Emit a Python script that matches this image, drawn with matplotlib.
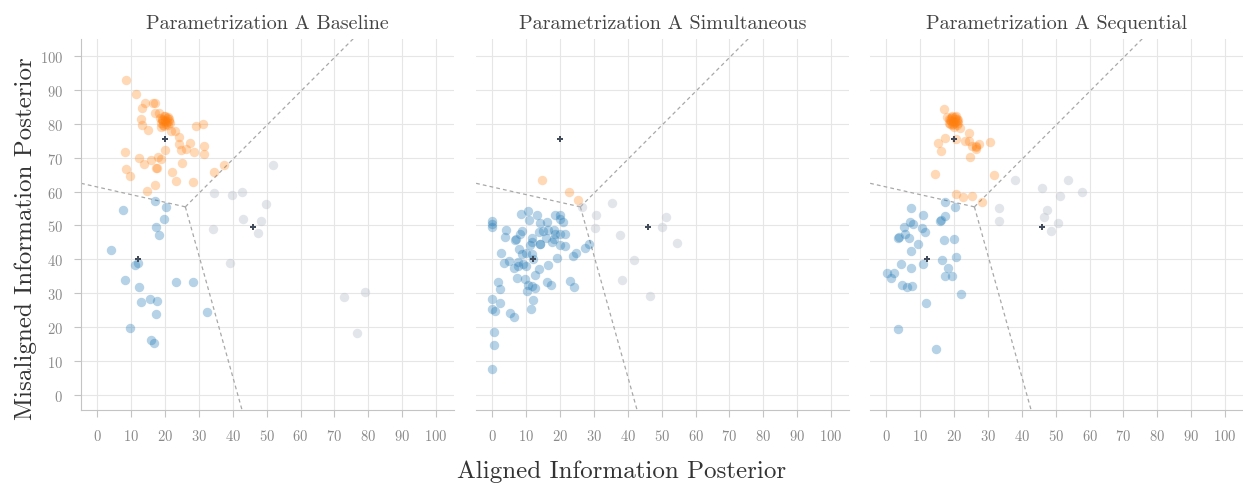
import numpy as np
import matplotlib
import matplotlib.pyplot as plt

matplotlib.use('agg')

# panel titles
titles = ['Parametrization A Baseline', 'Parametrization A Simultaneous',
          'Parametrization A Sequential']

# cluster centroids (same in all panels)
cent_x = [20, 12, 46]
cent_y = [75.5, 40, 49.5]

# --- Baseline ---
base_orange_x = [8.5, 11.5, 14.1, 13.2, 16.3, 17.1, 16.9, 18.2, 13.0, 13.2, 15.1,
                 22.8, 24.0, 21.9, 29.2, 31.3, 24.1, 27.5, 24.6, 26.3, 28.5, 31.4,
                 31.4, 20.0, 8.1, 12.4, 13.7, 16.0, 17.8, 18.9, 25.1, 17.4, 17.5,
                 8.6, 9.8, 22.2, 23.3, 28.3, 34.6, 37.5, 17.1, 14.7,
                 19.9, 19.2, 20.6, 21.3, 18.8, 19.5, 20.3, 21.0, 19.0, 20.8,
                 19.6, 20.1, 21.5, 18.5, 19.8, 20.5, 19.3, 21.2, 18.9, 20.0]
base_orange_y = [92.8, 88.8, 86.1, 84.5, 86.1, 86.1, 83.3, 83.3, 81.3, 79.7, 78.1,
                 78.0, 76.0, 78.0, 79.4, 79.8, 74.0, 74.2, 72.4, 72.6, 71.8, 73.5,
                 71.0, 72.2, 71.8, 69.9, 68.2, 69.3, 70.2, 69.5, 68.4, 66.9, 67.1,
                 66.6, 64.5, 65.7, 63.0, 62.7, 65.8, 67.9, 61.8, 60.1,
                 80.7, 81.5, 81.8, 80.9, 80.2, 79.6, 80.0, 79.5, 81.0, 82.0,
                 82.3, 81.2, 80.2, 81.6, 79.2, 80.5, 80.8, 81.4, 79.0, 82.4]
base_blue_x = [17.1, 20.3, 7.6, 19.7, 17.4, 18.3, 4.0, 12.1, 11.2, 8.3, 12.4, 23.3,
               28.2, 15.7, 17.5, 12.8, 17.3, 32.5, 9.8, 15.8, 16.6]
base_blue_y = [57.1, 55.4, 54.6, 51.9, 49.6, 47.2, 42.7, 38.9, 38.3, 34.0, 31.8, 33.2,
               33.2, 28.2, 27.7, 27.4, 24.0, 24.5, 19.8, 16.2, 15.3]
base_gray_x = [51.8, 34.6, 39.8, 42.6, 49.7, 42.9, 48.3, 47.4, 34.1, 39.1, 72.7, 79.0, 76.7]
base_gray_y = [67.9, 59.7, 59.1, 59.9, 56.3, 51.9, 51.4, 47.9, 49.1, 38.8, 28.9, 30.4, 18.3]

# --- Simultaneous ---
sim_orange_x = [14.7, 22.7, 25.2]
sim_orange_y = [63.5, 59.9, 57.6]
sim_blue_x = [0.0, 0.0, 0.0, 8.5, 10.6, 10.8, 13.3, 18.6, 20.0, 20.1, 20.9, 14.0, 16.1,
              3.9, 3.6, 8.7, 8.2, 6.9, 6.6, 13.8, 15.0, 16.3, 18.1, 18.6, 20.1, 21.6,
              11.6, 11.6, 14.1, 14.0, 15.9, 17.6, 18.2, 19.9, 21.4, 11.1, 7.9, 9.8,
              8.8, 11.6, 2.6, 4.8, 3.5, 7.7, 7.5, 9.0, 9.9, 6.5, 11.9, 19.2, 16.5,
              13.7, 12.6, 7.2, 9.6, 10.6, 11.8, 12.6, 10.1, 16.0, 17.4, 22.8, 24.0,
              23.9, 24.6, 27.5, 28.4, 1.7, 2.2, 0.0, 0.0, 0.7, 2.3, 5.2, 6.4, 12.1,
              11.4, 0.4, 0.5, 0.0]
sim_blue_y = [51.3, 50.3, 49.6, 53.3, 54.4, 51.6, 53.2, 53.0, 53.0, 51.8, 51.0, 50.6, 51.0,
              48.6, 46.6, 48.3, 47.5, 45.9, 45.6, 48.1, 48.4, 48.7, 48.7, 47.4, 47.4, 47.5,
              46.2, 45.2, 44.4, 44.6, 46.2, 45.2, 45.9, 44.2, 44.1, 44.2, 43.1, 42.0,
              41.5, 41.7, 41.8, 39.6, 38.8, 39.2, 38.2, 38.7, 38.2, 37.5, 40.0, 40.4, 38.3,
              37.3, 35.3, 34.5, 34.2, 32.6, 32.1, 31.5, 30.6, 33.3, 32.6, 33.6, 32.0,
              41.0, 41.8, 43.4, 44.6, 33.2, 31.4, 28.4, 25.5, 24.7, 27.1, 24.3, 22.9, 28.1,
              25.5, 18.5, 14.8, 7.6]
sim_gray_x = [26.4, 35.2, 30.7, 51.3, 30.4, 50.0, 37.8, 54.6, 41.9, 38.2, 46.7]
sim_gray_y = [55.4, 56.6, 53.0, 52.6, 49.2, 49.7, 47.3, 44.8, 39.9, 34.0, 29.2]

# --- Sequential ---
seq_orange_x = [17.0, 18.0, 21.7, 24.5, 17.4, 20.6, 23.3, 24.3, 15.2, 25.4, 26.4, 26.5,
                27.5, 26.6, 30.7, 16.0, 24.8, 14.4, 31.7, 20.6, 22.6, 25.4, 28.3,
                19.7, 19.0, 20.4, 21.1, 18.6, 19.3, 20.1, 20.8, 18.9, 20.6, 19.5,
                21.3, 18.4, 19.9, 20.3, 19.1, 21.0, 19.7, 20.2, 18.7, 19.4, 20.9]
seq_orange_y = [84.3, 82.0, 78.7, 77.4, 75.7, 75.5, 74.8, 74.8, 74.2, 73.3, 73.5, 73.0,
                74.1, 72.5, 74.7, 72.0, 70.1, 65.1, 65.0, 59.2, 58.3, 58.6, 57.0,
                80.7, 81.6, 81.9, 81.0, 80.3, 79.5, 80.1, 79.6, 81.2, 82.2, 82.3,
                80.3, 81.5, 79.1, 80.6, 80.8, 81.5, 79.9, 81.3, 79.8, 82.0, 80.9]
seq_blue_x = [7.3, 17.4, 20.3, 10.8, 17.4, 15.7, 16.0, 6.9, 8.0, 5.2, 10.5, 11.3, 5.4,
              3.3, 3.8, 6.6, 9.4, 17.1, 20.0, 7.4, 4.2, 7.2, 16.5, 10.9, 20.6, 18.3,
              0.1, 2.3, 1.3, 17.4, 19.4, 4.7, 6.2, 7.5, 21.9, 11.7, 3.3, 14.7]
seq_blue_y = [55.3, 57.0, 55.4, 53.2, 52.9, 51.4, 51.7, 51.0, 50.5, 49.6, 49.2, 48.0, 47.5,
              46.4, 46.7, 46.3, 44.4, 45.6, 46.1, 42.4, 38.7, 37.4, 39.8, 38.5, 40.8, 37.4,
              35.9, 36.0, 34.4, 35.1, 35.1, 32.5, 32.0, 32.3, 29.7, 27.1, 19.6, 13.6]
seq_gray_x = [38.1, 45.9, 53.7, 51.4, 57.9, 33.4, 33.4, 47.4, 46.4, 50.7, 48.6]
seq_gray_y = [63.5, 61.2, 63.3, 58.6, 59.8, 55.2, 51.4, 54.6, 52.4, 50.6, 48.4]

panels = [
    (base_orange_x, base_orange_y, base_blue_x, base_blue_y, base_gray_x, base_gray_y),
    (sim_orange_x, sim_orange_y, sim_blue_x, sim_blue_y, sim_gray_x, sim_gray_y),
    (seq_orange_x, seq_orange_y, seq_blue_x, seq_blue_y, seq_gray_x, seq_gray_y),
]

plt.rcParams['font.family'] = 'serif'
plt.rcParams['font.serif'] = ['cmr10']
plt.rcParams['mathtext.fontset'] = 'cm'
plt.rcParams['axes.formatter.use_mathtext'] = True

ORANGE = '#ff7f0e'
BLUE = '#1f77b4'
GRAY = '#b8bec8'
EDGE = '#c4c4c4'
TICK = '#8a8a8a'


def voronoi_rays(cx, cy):
    # circumcenter of the three centroids and the three bisector rays
    p = np.column_stack([cx, cy]).astype(float)
    (ax_, ay_), (bx_, by_), (qx_, qy_) = p
    d = 2 * (ax_ * (by_ - qy_) + bx_ * (qy_ - ay_) + qx_ * (ay_ - by_))
    ux = ((ax_**2 + ay_**2) * (by_ - qy_) + (bx_**2 + by_**2) * (qy_ - ay_)
          + (qx_**2 + qy_**2) * (ay_ - by_)) / d
    uy = ((ax_**2 + ay_**2) * (qx_ - bx_) + (bx_**2 + by_**2) * (ax_ - qx_)
          + (qx_**2 + qy_**2) * (bx_ - ax_)) / d
    cc = np.array([ux, uy])
    rays = []
    for i, j, k in [(0, 1, 2), (0, 2, 1), (1, 2, 0)]:
        e = p[j] - p[i]
        dv = np.array([-e[1], e[0]])
        if np.dot(dv, p[i] - p[k]) < 0:
            dv = -dv
        dv = dv / np.linalg.norm(dv)
        rays.append((cc, cc + dv * 300))
    return rays


fig = plt.figure(figsize=(12.43, 4.85), dpi=100)
lefts = [0.0652, 0.3830, 0.7000]
axes = [fig.add_axes([l, 0.1526, 0.300, 0.765]) for l in lefts]

for n, ax in enumerate(axes):
    ox, oy, bx, by, gx, gy = panels[n]
    ax.set_xlim(-4.8, 105.3)
    ax.set_ylim(-4.4, 105)
    ax.set_axisbelow(True)
    ax.grid(True, color='#e6e6e6', linewidth=0.8)

    for a, b in voronoi_rays(cent_x, cent_y):
        ax.plot([a[0], b[0]], [a[1], b[1]], color='#a8a8a8', linewidth=0.9,
                dashes=(3, 2.5), zorder=1)

    ax.scatter(gx, gy, s=46, color=GRAY, alpha=0.4, linewidths=0, zorder=2)
    ax.scatter(bx, by, s=46, color=BLUE, alpha=0.33, linewidths=0, zorder=2)
    ax.scatter(ox, oy, s=46, color=ORANGE, alpha=0.3, linewidths=0, zorder=2)
    ax.scatter(cent_x, cent_y, s=22, marker='P', color='#414b5a', linewidths=0,
               zorder=3)

    ax.set_xticks(np.arange(0, 101, 10))
    ax.set_yticks(np.arange(0, 101, 10))
    ax.tick_params(axis='both', colors=EDGE, labelcolor=TICK, labelsize=10.5,
                   length=5, width=0.8, pad=8)
    for side in ['top', 'right']:
        ax.spines[side].set_visible(False)
    ax.spines['bottom'].set_color(EDGE)
    ax.spines['left'].set_color(EDGE)
    if n > 0:
        ax.spines['left'].set_visible(False)
        ax.tick_params(axis='y', left=False, labelleft=False)
    ax.set_title(titles[n], fontsize=14.5, color='#444444', pad=8)

fig.text(0.5, 0.004, 'Aligned Information Posterior', ha='center', va='bottom',
         fontsize=18, color='#333333')
fig.text(0.012, 0.507, 'Misaligned Information Posterior', ha='left', va='center',
         rotation=90, fontsize=18, color='#333333')

fig.savefig('out.png', dpi=100)
